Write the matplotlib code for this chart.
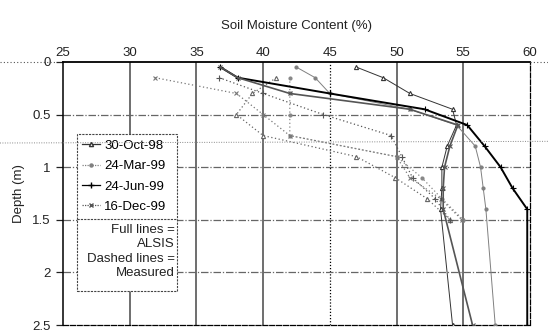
import matplotlib
matplotlib.use("Agg")
import matplotlib.pyplot as plt
from matplotlib.lines import Line2D
from matplotlib.patches import Rectangle

plt.rcParams['font.family'] = ['Liberation Sans', 'DejaVu Sans']

# depths (m)
alsis_depth = [0.05, 0.15, 0.3, 0.45, 0.6, 0.8, 1.0, 1.2, 1.4, 2.5]
meas_depth = [0.15, 0.3, 0.5, 0.7, 0.9, 1.1, 1.3, 1.5]

dates = ['30-Oct-98', '24-Mar-99', '24-Jun-99', '16-Dec-99']

# ALSIS simulated moisture (%)
alsis_oct98 = [47.0, 49.0, 51.0, 54.2, 54.5, 53.8, 53.4, 53.4, 53.3, 54.2]
alsis_mar99 = [42.5, 43.9, 45.0, 51.0, 54.5, 55.9, 56.3, 56.5, 56.7, 57.4]
alsis_jun99 = [36.8, 38.1, 45.0, 52.1, 55.3, 56.6, 57.8, 58.7, 59.8, 59.8]
alsis_dec99 = [36.8, 38.1, 42.0, 51.0, 54.6, 54.0, 53.6, 53.5, 53.5, 55.7]

# measured moisture (%)
meas_oct98 = [41.0, 39.2, 38.0, 40.0, 47.0, 49.9, 52.3, 54.0]
meas_mar99 = [42.0, 42.0, 42.0, 42.0, 50.0, 51.9, 53.4, 55.0]
meas_jun99 = [36.7, 40.0, 44.5, 49.6, 50.4, 51.2, 52.9, 54.0]
meas_dec99 = [31.9, 38.0, 40.0, 42.0, 50.0, 51.0, 53.3, 54.9]

x_ticks = [25, 30, 35, 40, 45, 50, 55, 60]
y_ticks = [0, 0.5, 1, 1.5, 2, 2.5]
y_ticklabels = ['0', '0.5', '1', '1.5', '2', '2.5']

styles = [
    dict(color='#333333', marker='^', ms=3.0, mfc='white'),
    dict(color='#808080', marker='o', ms=2.2),
    dict(color='#000000', marker='+', ms=4.0),
    dict(color='#555555', marker='x', ms=3.0),
]
alsis = [alsis_oct98, alsis_mar99, alsis_jun99, alsis_dec99]
meas = [meas_oct98, meas_mar99, meas_jun99, meas_dec99]
alsis_lw = [0.7, 0.7, 1.4, 1.2]
meas_col = ['#666666', '#888888', '#555555', '#777777']

fig = plt.figure(figsize=(5.48, 3.31), dpi=100)
ax = fig.add_axes([0.115, 0.018, 0.852, 0.795])

# grid
for xv in x_ticks[1:-1]:
    if xv == 45:
        ax.axvline(xv, color='black', lw=0.9, ls=(0, (1, 1.5)), zorder=1)
    else:
        ax.axvline(xv, color='#555555', lw=1.2, zorder=1)
for yv in y_ticks[1:-1]:
    ax.axhline(yv, color='#666666', lw=0.9, ls=(0, (6, 1.5, 1, 1.5)), zorder=1)

for i in range(4):
    st = styles[i]
    ax.plot(meas[i], meas_depth, ls=(0, (1, 2)), lw=0.9, color=meas_col[i],
            marker=st['marker'], ms=st['ms'], mfc=st.get('mfc', meas_col[i]),
            mec=meas_col[i], mew=0.8, zorder=3)
    ax.plot(alsis[i], alsis_depth, ls='-', lw=alsis_lw[i], color=st['color'],
            marker=st['marker'], ms=st['ms'], mfc=st.get('mfc', st['color']),
            mec=st['color'], mew=0.8, zorder=4)

ax.set_xlim(25, 60)
ax.set_ylim(2.5, 0)
ax.xaxis.tick_top()
ax.xaxis.set_label_position('top')
ax.set_xticks(x_ticks)
ax.set_yticks(y_ticks)
ax.set_yticklabels(y_ticklabels)
ax.tick_params(axis='x', length=0, pad=2, labelsize=9.5, colors='#222222')
ax.tick_params(axis='y', length=5, width=0.9, pad=4, labelsize=9.5, colors='#222222')
ax.set_xlabel('Soil Moisture Content (%)', fontsize=9.5, labelpad=13, color='#222222')
ax.set_ylabel('Depth (m)', fontsize=9.5, labelpad=5, color='#222222')

ax.spines['top'].set_linewidth(1.3)
ax.spines['left'].set_linewidth(1.1)
ax.spines['right'].set_linestyle((0, (4, 1.5)))
ax.spines['right'].set_linewidth(0.9)
ax.spines['bottom'].set_linestyle((0, (4, 1.5)))
ax.spines['bottom'].set_linewidth(0.9)

# legend box
box = Rectangle((0.030, 0.128), 0.214, 0.597, transform=ax.transAxes,
                facecolor='white', edgecolor='#444444', lw=0.8,
                ls=(0, (2, 1)), zorder=6)
ax.add_patch(box)
ax.plot([0.030, 0.244], [0.404, 0.404], transform=ax.transAxes,
        color='#444444', lw=0.8, ls=(0, (2, 1)), zorder=7)

handles = []
for i in range(4):
    st = styles[i]
    handles.append(Line2D([], [], color=st['color'], lw=0.9,
                          ls='-' if i % 2 == 0 else (0, (1, 1)),
                          marker=st['marker'], ms=st['ms'],
                          mfc=st.get('mfc', st['color']), mec=st['color']))
leg = ax.legend(handles, dates, loc='upper left', bbox_to_anchor=(0.034, 0.715),
                frameon=False, fontsize=9.5, handlelength=1.4, handletextpad=0.3,
                labelspacing=0.62, borderaxespad=0, borderpad=0.2)
leg.set_zorder(8)

ax.text(0.240, 0.385, 'Full lines =\nALSIS\nDashed lines =\nMeasured',
        transform=ax.transAxes, ha='right', va='top', fontsize=9.5,
        linespacing=1.28, color='#222222', zorder=8)

# dotted scan lines running past the frame
fig.add_artist(Line2D([0, 0.10], [0.813, 0.813], color='#555555', lw=0.8,
                      ls=(0, (1, 2))))
fig.add_artist(Line2D([0.967, 1.0], [0.813, 0.813], color='#555555', lw=0.8,
                      ls=(0, (1, 2))))
fig.add_artist(Line2D([0, 1.0], [0.568, 0.573], color='#888888', lw=0.7,
                      ls=(0, (1, 1.5))))

fig.savefig('out.png', dpi=100)
